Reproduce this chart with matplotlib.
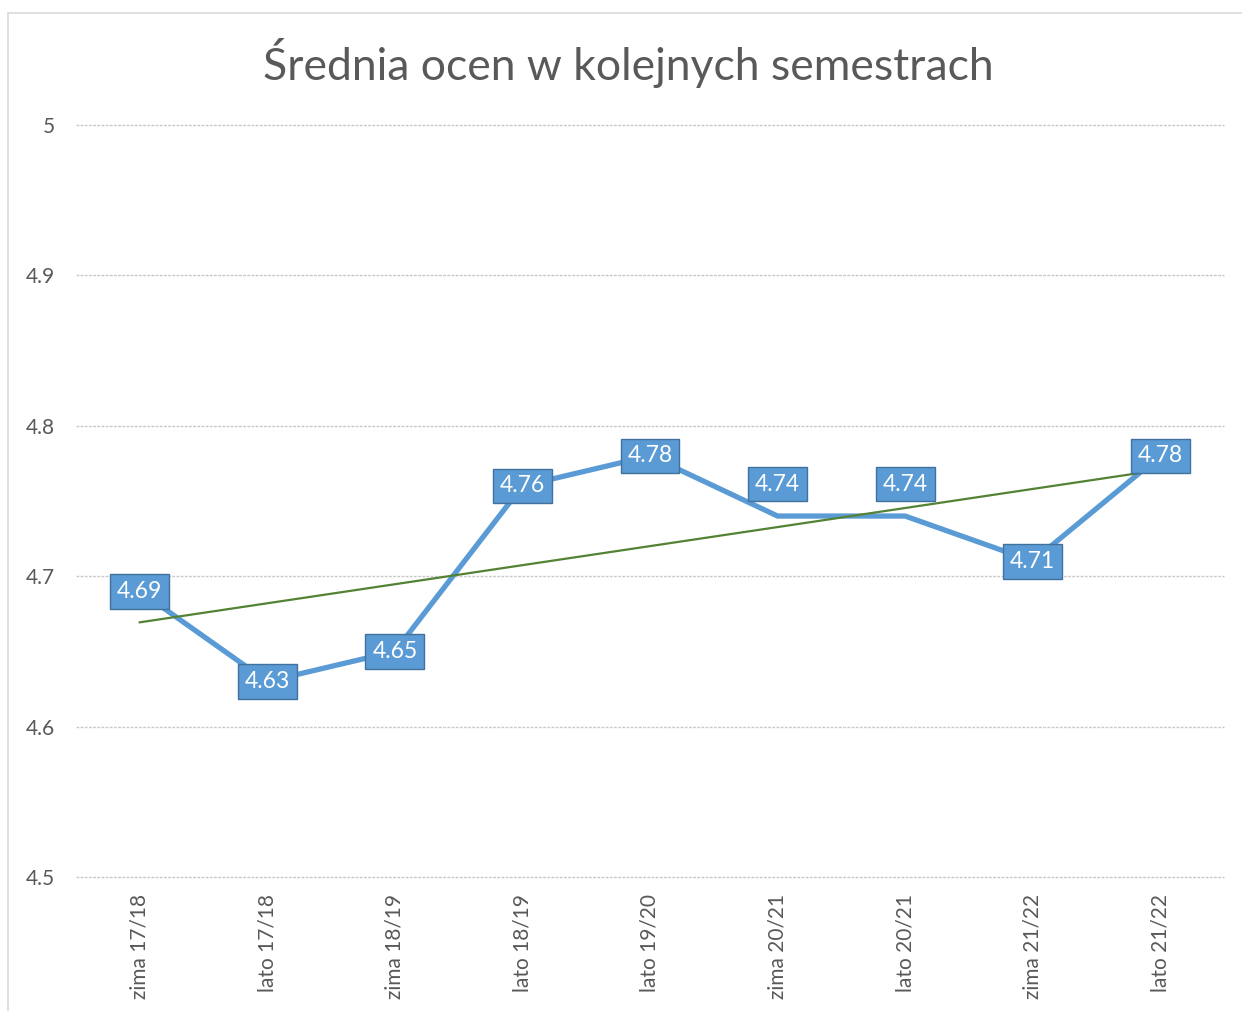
import matplotlib
matplotlib.use("Agg")
import matplotlib.pyplot as plt
from matplotlib.patches import Rectangle
import numpy as np

plt.rcParams['font.family'] = ['Lato', 'DejaVu Sans']

title = "Średnia ocen w kolejnych semestrach"
categories = ["zima 17/18", "lato 17/18", "zima 18/19", "lato 18/19", "lato 19/20",
              "zima 20/21", "lato 20/21", "zima 21/22", "lato 21/22"]
values = [4.69, 4.63, 4.65, 4.76, 4.78, 4.74, 4.74, 4.71, 4.78]
yticks = [4.5, 4.6, 4.7, 4.8, 4.9, 5.0]
ytick_labels = ["4.5", "4.6", "4.7", "4.8", "4.9", "5"]

# label vertical offsets (points) - styling only
label_offsets = [0, 0, 0, 0, 0, 23, 23, 0, 0]

W, H = 1242, 1011
fig = plt.figure(figsize=(W / 100, H / 100), dpi=100)
fig.patch.set_facecolor("white")

# chart border
fig.patches.append(Rectangle((8 / W, -0.02), 1.0, 1 - 13 / H + 0.02,
                             transform=fig.transFigure, fill=False,
                             edgecolor="#D9D9D9", lw=1.2, zorder=0))

ax = fig.add_axes([76 / W, 1 - 877 / H, (1224 - 76) / W, (877 - 125) / H])
x = np.arange(len(categories))

ax.set_ylim(4.5, 5.0)
ax.set_xlim(-0.5, len(categories) - 0.5)
ax.set_yticks(yticks)
ax.set_yticklabels(ytick_labels)
ax.set_xticks(x)
ax.set_xticklabels(categories, rotation=90, va="top", ha="center")
ax.tick_params(axis="both", length=0, colors="#595959", labelsize=15)
ax.tick_params(axis="y", pad=15)
ax.tick_params(axis="x", pad=12)
for s in ax.spines.values():
    s.set_visible(False)
ax.grid(axis="y", color="#C8C8C8", lw=1, linestyle=(0, (2, 1)))
for gl in ax.get_ygridlines():
    gl.set_clip_on(False)
ax.set_axisbelow(True)

ax.plot(x, values, color="#5B9BD5", lw=3.8, solid_joinstyle="miter", zorder=3)

# linear trendline
coef = np.polyfit(x, values, 1)
ax.plot(x, np.polyval(coef, x), color="#548235", lw=1.6, zorder=4)

for xi, v, off in zip(x, values, label_offsets):
    ax.annotate(f"{v:.2f}", (xi, v), xytext=(0, off), textcoords="offset points",
                ha="center", va="center", fontsize=16.5, color="white", zorder=5,
                bbox=dict(boxstyle="square,pad=0.3", facecolor="#5B9BD5",
                          edgecolor="#41719C", lw=1))

fig.text(628 / W, 1 - 63 / H, title, ha="center", va="center",
         fontsize=32, color="#595959")

fig.savefig("out.png", dpi=100)
